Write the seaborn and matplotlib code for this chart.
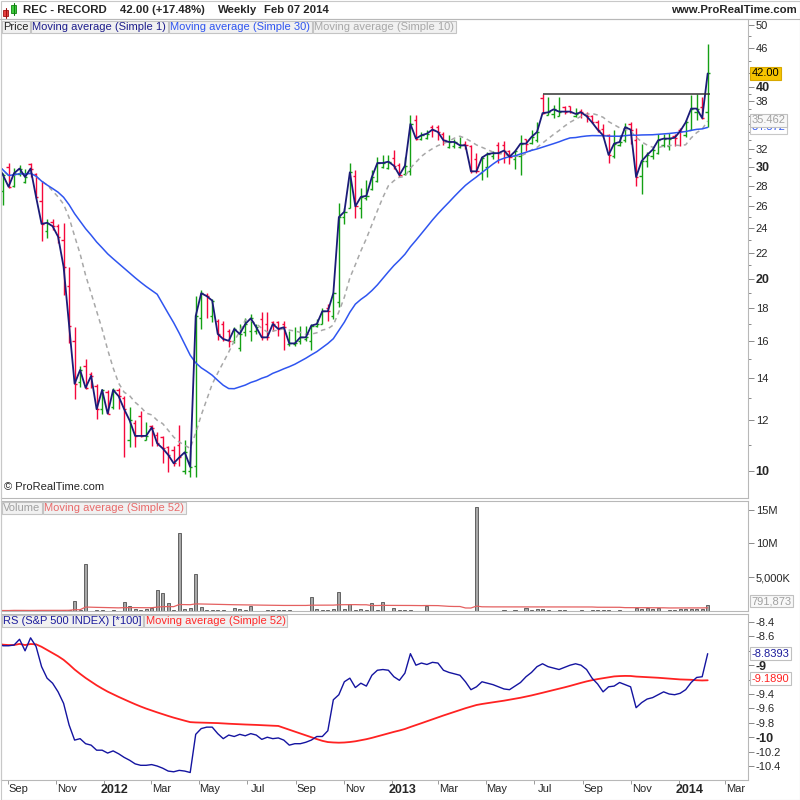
import numpy as np
import pandas as pd
import matplotlib
matplotlib.use("Agg")
import matplotlib.pyplot as plt
import matplotlib.transforms as mtransforms
from matplotlib.patches import Rectangle
from matplotlib.lines import Line2D
from matplotlib.ticker import FixedLocator, NullFormatter
import seaborn as sns

# weekly bars, Aug 19 2011 .. Feb 07 2014
close = [30.2, 29.1, 27.9, 29.3, 29.8, 28.9, 29.8, 26.9, 24.4, 24.5,
         24.2, 23.3, 20.9, 16.9, 13.7, 14.4, 13.5, 14.1, 12.5, 13.4,
         12.3, 13.4, 13.1, 12.5, 12.0, 11.35, 11.35, 11.35, 11.7, 11.05,
         10.85, 10.6, 10.28, 10.5, 10.7, 10.15, 17.5, 19.0, 18.8, 18.5,
         16.4, 16.1, 16.0, 16.7, 16.4, 17.0, 17.35, 16.8, 16.2, 16.2,
         17.0, 16.7, 16.8, 15.85, 15.85, 16.2, 16.2, 16.9, 17.0, 17.8,
         17.8, 19.0, 25.0, 25.5, 29.4, 26.0, 26.9, 27.0, 28.9, 30.4,
         30.4, 30.55, 30.1, 29.1, 30.1, 35.0, 33.2, 33.6, 33.8, 34.3,
         34.0, 33.0, 32.8, 32.8, 32.4, 32.4, 29.5, 29.5, 31.0, 31.4,
         31.5, 31.5, 31.8, 31.1, 31.7, 32.6, 32.6, 33.4, 34.0, 36.4,
         36.5, 36.9, 36.6, 36.6, 36.6, 36.3, 36.5, 36.0, 35.2, 34.3,
         33.6, 31.3, 32.6, 32.8, 34.6, 34.3, 28.9, 30.6, 31.3, 31.9,
         33.0, 33.2, 33.2, 33.3, 34.1, 35.2, 37.0, 37.0, 35.75, 42.0]
open_ = [29.0, 27.5, 30.0, 28.0, 29.2, 28.4, 30.3, 29.2, 26.5, 23.8,
         24.6, 24.2, 23.0, 19.5, 16.0, 13.8, 14.6, 14.2, 13.6, 12.5,
         13.3, 12.6, 13.4, 13.0, 11.2, 11.9, 12.2, 11.2, 11.75, 11.4,
         11.3, 10.9, 10.8, 11.0, 10.0, 10.0, 10.2, 17.4, 18.9, 17.5,
         17.2, 17.0, 16.6, 16.0, 15.6, 16.5, 16.6, 16.6, 17.3, 17.0,
         17.1, 17.1, 17.0, 15.8, 15.8, 16.0, 16.1, 16.0, 16.9, 17.0,
         18.0, 17.5, 18.4, 25.0, 25.8, 29.0, 25.8, 26.8, 27.7, 28.5,
         30.0, 29.9, 31.0, 30.2, 29.2, 29.5, 35.5, 33.1, 33.3, 34.6,
         34.6, 33.8, 32.2, 32.3, 32.2, 32.6, 32.3, 30.8, 29.3, 30.0,
         31.2, 32.4, 32.5, 31.7, 30.8, 31.2, 33.1, 32.7, 33.0, 38.5,
         36.2, 36.3, 36.0, 37.2, 37.3, 36.0, 36.7, 36.3, 36.0, 35.3,
         34.4, 33.6, 31.2, 32.4, 33.0, 35.0, 33.0, 29.0, 30.6, 31.2,
         31.5, 32.4, 32.3, 33.5, 34.3, 33.6, 34.3, 36.5, 37.2, 36.5]
high = [30.8, 29.3, 30.4, 29.9, 30.2, 29.8, 30.4, 29.3, 28.5, 24.8,
        24.8, 24.4, 24.5, 20.9, 16.8, 14.6, 15.0, 14.3, 13.7, 13.45,
        13.4, 13.5, 13.5, 13.1, 12.6, 12.0, 12.4, 11.95, 11.8, 11.5,
        11.35, 10.95, 10.95, 11.8, 11.2, 10.8, 18.8, 19.2, 19.0, 18.6,
        17.3, 17.2, 16.7, 16.8, 17.0, 17.4, 17.6, 17.0, 17.75, 17.75,
        17.2, 17.2, 17.2, 16.6, 16.8, 16.9, 16.9, 17.0, 17.3, 18.0,
        18.3, 19.1, 26.3, 25.8, 30.4, 29.6, 27.8, 28.6, 29.6, 31.1,
        31.3, 31.3, 31.9, 30.4, 31.1, 36.1, 36.1, 34.0, 34.25, 34.9,
        34.9, 34.0, 33.6, 33.2, 33.4, 32.9, 32.4, 31.5, 31.2, 31.6,
        31.8, 32.8, 32.9, 31.9, 31.9, 33.6, 33.2, 34.25, 35.3, 39.0,
        38.6, 37.5, 38.6, 37.4, 37.4, 37.1, 36.9, 36.5, 36.1, 35.5,
        35.0, 33.8, 34.25, 33.6, 35.1, 35.2, 34.5, 32.6, 31.6, 32.1,
        33.8, 33.7, 33.9, 33.8, 34.5, 35.5, 38.9, 39.0, 38.6, 46.7]
low = [28.6, 26.1, 27.8, 27.9, 29.0, 28.3, 28.9, 26.8, 22.9, 23.2,
       23.9, 22.8, 18.9, 15.9, 12.95, 13.55, 13.45, 13.5, 12.05, 12.3,
       12.3, 12.5, 12.5, 10.5, 10.9, 10.9, 11.3, 11.2, 10.95, 10.95,
       10.3, 9.97, 10.2, 10.2, 9.9, 9.8, 9.8, 16.7, 17.35, 17.1,
       16.05, 16.0, 15.65, 15.9, 15.4, 16.3, 16.0, 16.4, 16.05, 16.05,
       16.6, 16.3, 15.5, 15.7, 15.7, 15.8, 16.0, 15.5, 16.8, 17.0,
       17.2, 17.3, 18.1, 24.4, 25.8, 24.9, 24.9, 26.6, 27.6, 28.4,
       29.9, 29.8, 29.8, 28.9, 29.1, 29.1, 33.0, 33.0, 33.2, 33.4,
       33.0, 32.4, 32.05, 32.1, 32.1, 32.0, 29.3, 29.3, 28.6, 28.9,
       30.8, 30.4, 30.4, 30.3, 29.8, 29.1, 31.7, 32.6, 32.8, 36.3,
       36.2, 35.8, 36.0, 36.3, 36.4, 35.9, 35.8, 35.2, 35.1, 34.0,
       33.4, 30.4, 31.0, 32.3, 32.8, 32.6, 28.0, 27.2, 30.0, 30.8,
       31.4, 32.2, 31.9, 32.3, 32.3, 33.4, 34.3, 35.5, 35.6, 34.6]
volume_m = [0.0, 0.0, 0.0, 0.1, 0.0, 0.0, 0.0, 0.12, 0.0, 0.0,
            0.0, 0.0, 0.12, 0.12, 1.37, 0.15, 6.9, 0.0, 0.12, 0.08,
            0.0, 0.08, 0.0, 1.2, 0.7, 0.3, 0.08, 0.3, 0.45, 3.06,
            2.56, 1.07, 0.12, 11.5, 0.3, 0.45, 5.45, 0.6, 0.08, 0.08,
            0.08, 0.08, 0.0, 0.4, 0.3, 0.12, 0.7, 0.0, 0.0, 0.08,
            0.12, 0.08, 0.08, 0.08, 0.0, 0.0, 0.0, 1.97, 0.2, 0.08,
            0.08, 0.3, 2.7, 0.3, 0.95, 0.12, 0.2, 0.12, 1.07, 0.12,
            1.27, 0.0, 0.4, 0.05, 0.05, 0.05, 0.0, 0.0, 0.7, 0.0,
            0.0, 0.0, 0.0, 0.0, 0.0, 0.0, 0.0, 15.4, 0.0, 0.0,
            0.0, 0.0, 0.05, 0.0, 0.05, 0.0, 0.35, 0.12, 0.2, 0.3,
            0.05, 0.0, 0.12, 0.05, 0.0, 0.0, 0.05, 0.0, 0.05, 0.05,
            0.12, 0.05, 0.0, 0.05, 0.0, 0.0, 0.4, 0.2, 0.4, 0.2,
            0.4, 0.0, 0.05, 0.05, 0.2, 0.2, 0.2, 0.2, 0.2, 0.79]
rs = [-8.70, -8.73, -8.73, -8.72, -8.64, -8.80, -8.62, -8.74, -9.02, -9.18,
      -9.25, -9.37, -9.53, -9.83, -10.04, -10.02, -10.09, -10.11, -10.18, -10.18,
      -10.22, -10.19, -10.23, -10.28, -10.32, -10.37, -10.39, -10.39, -10.38, -10.40,
      -10.43, -10.47, -10.48, -10.46, -10.47, -10.49, -9.96, -9.88, -9.86, -9.86,
      -9.95, -10.02, -9.97, -9.99, -9.96, -9.98, -9.95, -9.97, -10.03, -10.00,
      -10.02, -10.01, -10.04, -10.11, -10.09, -10.09, -10.07, -10.04, -9.99, -9.99,
      -9.91, -9.48, -9.41, -9.23, -9.18, -9.31, -9.25, -9.29, -9.14, -9.07,
      -9.06, -9.07, -9.16, -9.21, -9.11, -8.84, -9.00, -8.97, -8.99, -8.96,
      -8.97, -9.07, -9.10, -9.12, -9.14, -9.23, -9.34, -9.30, -9.23, -9.25,
      -9.27, -9.30, -9.33, -9.34, -9.29, -9.24, -9.16, -9.10, -9.02, -8.98,
      -9.02, -9.04, -9.06, -9.03, -9.00, -8.98, -9.00, -9.06, -9.18, -9.26,
      -9.37, -9.30, -9.29, -9.24, -9.27, -9.30, -9.59, -9.52, -9.47, -9.45,
      -9.41, -9.37, -9.40, -9.41, -9.39, -9.34, -9.24, -9.17, -9.16, -8.84]

resistance = 39.0
resistance_start = 99

price_ticks = [10, 12, 14, 16, 18, 20, 22, 24, 26, 28, 30, 32, 38, 40, 46, 50]
price_minor = [11, 13, 15, 17, 19, 21, 23, 25, 27, 29, 31, 33, 34, 35, 36, 37,
               39, 42, 44, 48]
volume_ticks = [5, 10, 15]
volume_tick_labels = ["5,000K", "10M", "15M"]
rs_ticks = [-8.4, -8.6, -8.8, -9, -9.2, -9.4, -9.6, -9.8, -10, -10.2, -10.4]
# -8.8 and -9.2 sit under the value boxes in the original
rs_tick_labels = ["-8.4", "-8.6", "", "-9", "", "-9.4", "-9.6", "-9.8",
                  "-10", "-10.2", "-10.4"]

header_parts = ["REC - RECORD", "42.00 (+17.48%)", "Weekly", "Feb 07 2014"]
ma10_label = "35.462"
last_volume_label = "791,873"
rs_label = "-8.8393"
rs_ma_label = "-9.1890"

GREEN = "#14a014"
RED = "#f5083c"
NAVY = "#1b1b78"
BLUE = "#2f55f0"
GREY = "#a8a8a8"
EDGE = "#b8b8b8"

sns.set_style("white")
plt.rcParams["font.family"] = ["Liberation Sans", "DejaVu Sans"]

N = len(close)
dates = pd.date_range(end="2014-02-07", periods=N, freq="W-FRI")
df = pd.DataFrame({"x": np.arange(N), "open": open_, "high": high, "low": low,
                   "close": close, "volume": volume_m, "rs": rs}, index=dates)
df["ma10"] = df["close"].rolling(10, min_periods=1).mean()
df["ma30"] = df["close"].rolling(30, min_periods=1).mean()
df["vol_ma"] = df["volume"].rolling(52, min_periods=1).mean()
df["rs_ma"] = df["rs"].rolling(52, min_periods=1).mean()

W, H = 800, 800
fig = plt.figure(figsize=(8, 8), dpi=100)
renderer = fig.canvas.get_renderer()


def px_axes(x0, y0, x1, y1):
    return fig.add_axes([x0 / W, 1 - y1 / H, (x1 - x0) / W, (y1 - y0) / H])


ax_p = px_axes(1, 19, 748, 498)
ax_v = px_axes(1, 501, 748, 611)
ax_r = px_axes(1, 614, 748, 780)

XMIN = 0.63
XMAX = XMIN + 747 / 5.505

for ax in (ax_p, ax_v, ax_r):
    ax.set_xlim(XMIN, XMAX)
    ax.yaxis.tick_right()
    ax.tick_params(axis="y", which="both", right=True, left=False, direction="out",
                   length=4, width=0.7, color="#8a8a8a", labelsize=8, pad=1.5)
    ax.tick_params(axis="y", which="minor", length=2.5)
    ax.tick_params(axis="x", which="both", bottom=False, labelbottom=False)
    for s in ax.spines.values():
        s.set_color(EDGE)
        s.set_linewidth(0.8)

# ---- price panel ----
colors = np.where(df["close"] >= df["open"], GREEN, RED)
ax_p.vlines(df["x"], df["low"], df["high"], colors=colors, lw=1.0, zorder=2)
ax_p.hlines(df["open"], df["x"] - 0.4, df["x"], colors=colors, lw=1.0, zorder=2)
ax_p.hlines(df["close"], df["x"], df["x"] + 0.4, colors=colors, lw=1.0, zorder=2)
sns.lineplot(x=df["x"], y=df["ma10"], ax=ax_p, color=GREY, lw=1.1,
             linestyle=(0, (3, 2.5)), legend=False, zorder=3)
sns.lineplot(x=df["x"], y=df["ma30"], ax=ax_p, color=BLUE, lw=1.1, legend=False, zorder=3)
sns.lineplot(x=df["x"], y=df["close"], ax=ax_p, color=NAVY, lw=1.3, legend=False, zorder=4)
ax_p.hlines(resistance, resistance_start, N - 0.6, color="#333333", lw=1.1, zorder=4)

ax_p.set_yscale("log")
ax_p.set_ylim(9.071, 51.13)
ax_p.set_yticks(price_ticks, [str(v) for v in price_ticks])
ax_p.yaxis.set_minor_locator(FixedLocator(price_minor))
ax_p.yaxis.set_minor_formatter(NullFormatter())
for lbl in ax_p.get_yticklabels():
    if lbl.get_text() in ("10", "20", "30", "40"):
        lbl.set_fontweight("bold")
        lbl.set_fontsize(9)

tp = mtransforms.blended_transform_factory(ax_p.transAxes, ax_p.transData)
ax_p.text(1.005, df["ma30"].iloc[-1], f"{df['ma30'].iloc[-1]:.3f}", transform=tp,
          color=BLUE, fontsize=8, va="center", ha="left", zorder=5, clip_on=False,
          bbox=dict(boxstyle="square,pad=0.12", fc="white", ec="#c8c8c8", lw=0.8))
ax_p.text(1.005, float(ma10_label), ma10_label, transform=tp, color="#a0a0a0",
          fontsize=8, va="center", ha="left", zorder=6, clip_on=False,
          bbox=dict(boxstyle="square,pad=0.12", fc="#f8f8f8", ec="#c0c0c0", lw=0.8))
ax_p.text(1.005, df["close"].iloc[-1], f"{df['close'].iloc[-1]:.2f}", transform=tp,
          color="black", fontsize=8, va="center", ha="left", zorder=6, clip_on=False,
          bbox=dict(boxstyle="square,pad=0.12", fc="#f6c400", ec="#d8a800", lw=0.8))
ax_p.text(3 / 747, 0.012, "© ProRealTime.com", transform=ax_p.transAxes,
          fontsize=8, va="bottom", ha="left")

# ---- volume panel ----
ax_v.bar(df["x"], df["volume"], width=0.55, color="#a8a8a8", edgecolor="#505050",
         lw=0.6, zorder=2)
sns.lineplot(x=df["x"], y=df["vol_ma"], ax=ax_v, color="#e46060", lw=0.9,
             legend=False, zorder=3)
ax_v.set_ylim(-0.07, 16.34)
ax_v.set_yticks(volume_ticks, volume_tick_labels)
tv = mtransforms.blended_transform_factory(ax_v.transAxes, ax_v.transData)
ax_v.text(1.005, max(df["volume"].iloc[-1], 1.4), last_volume_label, transform=tv,
          color="#a0a0a0", fontsize=8, va="center", ha="left", zorder=6, clip_on=False,
          bbox=dict(boxstyle="square,pad=0.12", fc="#f8f8f8", ec="#c0c0c0", lw=0.8))

# ---- relative strength panel ----
sns.lineplot(x=df["x"], y=df["rs_ma"], ax=ax_r, color="#ff2222", lw=1.3,
             legend=False, zorder=3)
sns.lineplot(x=df["x"], y=df["rs"], ax=ax_r, color="#1414a0", lw=1.0,
             legend=False, zorder=4)
ax_r.set_ylim(-10.594, -8.289)
ax_r.set_yticks(rs_ticks, rs_tick_labels)
for lbl in ax_r.get_yticklabels():
    if lbl.get_text() in ("-9", "-10"):
        lbl.set_fontweight("bold")
        lbl.set_fontsize(9)
tr = mtransforms.blended_transform_factory(ax_r.transAxes, ax_r.transData)
ax_r.text(1.005, float(rs_label), rs_label, transform=tr, color="#1c1c9c",
          fontsize=8, va="center", ha="left", zorder=6, clip_on=False,
          bbox=dict(boxstyle="square,pad=0.12", fc="white", ec="#c0c0c0", lw=0.8))
ax_r.text(1.005, float(rs_ma_label), rs_ma_label, transform=tr, color="#ff2222",
          fontsize=8, va="center", ha="left", zorder=6, clip_on=False,
          bbox=dict(boxstyle="square,pad=0.12", fc="white", ec="#c0c0c0", lw=0.8))

months = pd.date_range("2011-09-01", "2014-03-01", freq="2MS")
month_pos = [(d - dates[0]).days / 7 for d in months]
label_pos = [p + 2.0 for p in month_pos]
month_lbls = [str(d.year) if d.month == 1 else d.strftime("%b") for d in months]
ax_r.set_xticks(label_pos, month_lbls)
ax_r.set_xticks(month_pos, minor=True)
ax_r.tick_params(axis="x", which="major", bottom=True, labelbottom=True, length=0,
                 labelsize=8, pad=3)
ax_r.tick_params(axis="x", which="minor", bottom=True, length=3, color="#8a8a8a")
for lbl in ax_r.get_xticklabels():
    if lbl.get_text().isdigit():
        lbl.set_fontweight("bold")
        lbl.set_fontsize(9)

for ax in (ax_p, ax_v, ax_r):
    ax.set_xlabel("")
    ax.set_ylabel("")

# ---- header ----
hy = 1 - 10 / H
hx = 23
for part, gap in zip(header_parts, [13, 13, 7, 0]):
    t = fig.text(hx / W, hy, part, fontsize=8.2, fontweight="bold", va="center")
    hx = t.get_window_extent(renderer).x1 + gap
fig.text(797 / W, hy, "www.ProRealTime.com", fontsize=8.2, fontweight="bold",
         va="center", ha="right")


def px_rect(x0, y0, x1, y1, **kw):
    fig.patches.append(Rectangle((x0 / W, 1 - y1 / H), (x1 - x0) / W, (y1 - y0) / H,
                                 transform=fig.transFigure, **kw))


def px_line(x0, y0, x1, y1, **kw):
    fig.lines.append(Line2D([x0 / W, x1 / W], [1 - y0 / H, 1 - y1 / H],
                            transform=fig.transFigure, **kw))


px_line(5.5, 8, 5.5, 18, color="#a01010", lw=0.8)
px_rect(3, 10, 8, 16, fc="#e84040", ec="#a01010", lw=0.6)
px_line(13.5, 3, 13.5, 15, color="#108010", lw=0.8)
px_rect(11, 5, 16, 13, fc="#40d040", ec="#108010", lw=0.6)
px_line(0, 19, 800, 19, color=EDGE, lw=0.8)
px_rect(0.5, 0.5, 799.5, 799.5, fill=False, ec="#c8c8c8", lw=0.8)


# ---- legend boxes in each panel ----
def legend_chain(items, x0, yc):
    x = x0
    for text, color in items:
        t = fig.text(x / W, 1 - yc / H, text, color=color, fontsize=8, va="center",
                     ha="left", zorder=10,
                     bbox=dict(boxstyle="square,pad=0.12", fc="#f1f1f1",
                               ec="#c4c4c4", lw=0.8))
        x = t.get_window_extent(renderer).x1 + 4


legend_chain([("Price", "#222222"), ("Moving average (Simple 1)", "#1d1d8c"),
              ("Moving average (Simple 30)", BLUE),
              ("Moving average (Simple 10)", GREY)], 3, 27)
legend_chain([("Volume", "#a0a0a0"), ("Moving average (Simple 52)", "#e86a6a")], 3, 508)
legend_chain([("RS (S&P 500 INDEX) [*100]", "#1c1c9c"),
              ("Moving average (Simple 52)", "#ff2a2a")], 3, 621)

fig.savefig("out.png", dpi=100)
